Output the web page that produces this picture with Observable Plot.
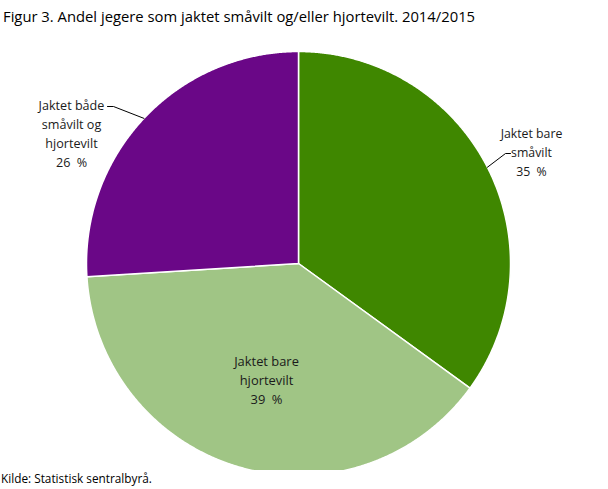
<!DOCTYPE html>
<html><head><meta charset="utf-8">
<script src="https://cdn.jsdelivr.net/npm/d3@7"></script>
<script src="https://cdn.jsdelivr.net/npm/@observablehq/plot@0.6"></script>
<style>
body{margin:0;background:#fff;font-family:"Open Sans",sans-serif;}
#wrap{position:relative;width:608px;height:489px;overflow:hidden;}
#title{position:absolute;left:3px;top:6px;font-size:14.8px;color:#000;white-space:nowrap;}
#chart{position:absolute;left:0;top:30px;}
#caption{position:absolute;left:1px;top:470px;font-size:11.8px;color:#000;}
</style></head><body>
<div id="wrap">
<div id="title">Figur 3. Andel jegere som jaktet småvilt og/eller hjortevilt. 2014/2015</div>
<div id="chart"></div>
<div id="caption">Kilde: Statistisk sentralbyrå.</div>
</div>
<script>
const categories = ["Jaktet bare småvilt", "Jaktet bare hjortevilt", "Jaktet både småvilt og hjortevilt"];
const values = [35, 39, 26];
const labelLines = [["Jaktet bare", "småvilt"], ["Jaktet bare", "hjortevilt"], ["Jaktet både", "småvilt og", "hjortevilt"]];
const colors = ["#3f8700", "#a0c585", "#6a0787"];

// layout (pixels)
const W = 608, H = 440, CX = 298, CY = 233, R = 212;
const toU = (px, py) => ({x: (px - CX) / R, y: (CY - py) / R});
const labelLayout = [
  {text: [531, 120], size: 12.3, leader: [[505, 123], [510, 123]]},
  {text: [266, 348], size: 12.9, leader: null},
  {text: [71, 101.5], size: 12.6, leader: [[113, 76], [107, 76]]}
];

const arcs = d3.pie().sort(null).value(d => d.value)(
  categories.map((c, i) => ({category: c, value: values[i], i}))
);

const poly = [];
arcs.forEach(a => {
  const cat = a.data.category;
  const n = Math.max(2, Math.ceil((a.endAngle - a.startAngle) / 0.005));
  poly.push({category: cat, x: 0, y: 0});
  for (let k = 0; k <= n; k++) {
    const t = a.startAngle + (a.endAngle - a.startAngle) * k / n;
    poly.push({category: cat, x: Math.sin(t), y: Math.cos(t)});
  }
  poly.push({category: cat, x: 0, y: 0});
});

const texts = [];
const leaders = [];
arcs.forEach((a, i) => {
  const L = labelLayout[i];
  const u = toU(L.text[0], L.text[1]);
  texts.push({x: u.x, y: u.y, size: L.size, lh: 19 / L.size, label: labelLines[i].concat([values[i] + "\u2002%"]).join("\n")});
  if (L.leader) {
    const mid = (a.startAngle + a.endAngle) / 2;
    const pts = [{x: Math.sin(mid), y: Math.cos(mid)}].concat(L.leader.map(p => toU(p[0], p[1])));
    pts.forEach(p => leaders.push({id: i, x: p.x, y: p.y}));
  }
});

const textMarks = texts.map(t => Plot.text([t], {x: "x", y: "y", text: "label", fontSize: t.size, lineHeight: t.lh, fill: "#1a1a1a", textAnchor: "middle", lineAnchor: "middle"}));

const chart = Plot.plot({
  width: W, height: H,
  marginLeft: 0, marginRight: 0, marginTop: 0, marginBottom: 0,
  x: {domain: [-1, 1], range: [CX - R, CX + R], axis: null},
  y: {domain: [-1, 1], range: [CY + R, CY - R], axis: null},
  color: {domain: categories, range: colors},
  style: {fontFamily: "'Open Sans', sans-serif", background: "white"},
  marks: [
    Plot.line(poly, {x: "x", y: "y", z: "category", fill: "category", stroke: "white", strokeWidth: 1.5, strokeLinejoin: "round", curve: "linear"}),
    Plot.line(leaders, {x: "x", y: "y", z: "id", stroke: "#000", strokeWidth: 1}),
    ...textMarks
  ]
});
document.getElementById("chart").appendChild(chart);
</script>
</body></html>
